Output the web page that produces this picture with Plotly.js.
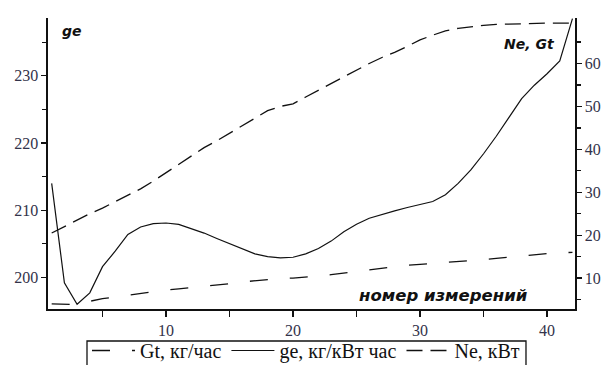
<!DOCTYPE html>
<html><head><meta charset="utf-8">
<script src="https://cdn.plot.ly/plotly-3.0.1.min.js"></script>
<style>html,body{margin:0;padding:0;background:#fff}#c{width:603px;height:365px}</style>
</head><body><div id="c"></div>
<script>
const measure = [1,2,3,4,5,6,7,8,9,10,11,12,13,14,15,16,17,18,19,20,21,22,23,24,25,26,27,28,29,30,31,32,33,34,35,36,37,38,39,40,41,42];
const geVals = [214,199.2,196.0,197.7,201.6,203.9,206.4,207.5,208.0,208.1,207.9,207.3,206.6,205.8,205.0,204.2,203.5,203.1,202.9,203.0,203.5,204.3,205.4,206.8,207.9,208.8,209.4,209.9,210.4,210.8,211.3,212.3,214.0,216.0,218.4,221.0,223.8,226.6,228.6,230.3,232.2,238.5];
const neVals = [20.5,22.0,23.6,25.0,26.3,27.8,29.2,30.8,32.6,34.6,36.4,38.5,40.4,42.0,43.8,45.5,47.3,49.0,50.0,50.6,52.2,53.8,55.4,57.0,58.5,60.0,61.4,62.6,64.0,65.5,66.6,67.6,68.2,68.6,68.9,69.1,69.2,69.3,69.4,69.4,69.4,69.4];
const gtVals = [4.0,3.9,3.8,4.6,5.2,5.6,6.0,6.5,6.9,7.2,7.5,7.8,8.0,8.3,8.7,9.1,9.4,9.7,9.9,10.0,10.2,10.5,10.8,11.1,11.5,11.9,12.3,12.7,13.0,13.2,13.4,13.7,13.9,14.1,14.3,14.6,14.9,15.2,15.5,15.7,15.9,16.0];
const names = ['Gt, кг/час','ge, кг/кВт час','Ne, кВт'];

const serif = "'Liberation Serif', 'Times New Roman', serif";
const tickFont = {family:serif, size:16, color:'#33334a'};
const annFont = {family:"'DejaVu Sans', sans-serif", size:14, color:'#111', weight:'bold', style:'italic'};
const annFontBig = {family:"'DejaVu Sans', sans-serif", size:16.5, color:'#111', weight:'bold', style:'italic'};

const traces = [
  {x:measure, y:gtVals, yaxis:'y2', name:names[0], mode:'lines', line:{color:'#111', width:1.3, dash:'18px,22px'}},
  {x:measure, y:geVals, yaxis:'y', name:names[1], mode:'lines', line:{color:'#111', width:1.2}},
  {x:measure, y:neVals, yaxis:'y2', name:names[2], mode:'lines', line:{color:'#111', width:1.3, dash:'16px,8px'}}
];

const layout = {
  width:603, height:365,
  margin:{l:48, r:28, t:18, b:56, autoexpand:false},
  paper_bgcolor:'#fff', plot_bgcolor:'#fff',
  font:{family:serif},
  showlegend:true,
  legend:{orientation:'h', x:0.074, xanchor:'left', y:-0.0756, yanchor:'top',
    borderwidth:0, bgcolor:'rgba(0,0,0,0)',
    font:{family:serif, size:20, color:'#111'},
    traceorder:'normal', itemwidth:43},
  shapes:[
    {type:'rect', xref:'paper', yref:'paper', x0:0.074, x1:0.907, y0:-0.110, y1:-0.26, line:{color:'#111', width:1.3}, fillcolor:'rgba(0,0,0,0)', layer:'below'}
  ],
  xaxis:{range:[0.71,42.2], tickvals:[10,20,30,40], ticks:'outside', ticklen:6, tickwidth:1.3, tickcolor:'#111',
    minor:{tickvals:[5,15,25,35], ticks:'outside', ticklen:6, tickwidth:1.3, tickcolor:'#111'},
    showline:true, linecolor:'#111', linewidth:1.6, showgrid:false, zeroline:false, tickfont:tickFont},
  yaxis:{range:[195.3,238.6], tickvals:[200,210,220,230], ticks:'outside', ticklen:5, tickwidth:1.3, tickcolor:'#111',
    minor:{tickvals:[195,205,215,225,235], ticks:'outside', ticklen:4, tickwidth:1.3, tickcolor:'#111'},
    showline:true, linecolor:'#111', linewidth:1.6, showgrid:false, zeroline:false, tickfont:tickFont},
  yaxis2:{overlaying:'y', side:'right', range:[2.8,70.6], tickvals:[10,20,30,40,50,60], ticks:'outside', ticklen:5, tickwidth:1.3, tickcolor:'#111',
    minor:{tickvals:[5,15,25,35,45,55,65], ticks:'outside', ticklen:4, tickwidth:1.3, tickcolor:'#111'},
    showline:true, linecolor:'#111', linewidth:1.6, showgrid:false, zeroline:false, tickfont:tickFont},
  annotations:[
    {xref:'paper', yref:'paper', x:0.023, y:0.955, xanchor:'left', yanchor:'middle', text:'ge', showarrow:false, font:annFont},
    {xref:'paper', yref:'paper', x:0.965, y:0.91, xanchor:'right', yanchor:'middle', text:'Ne, Gt', showarrow:false, font:annFont},
    {xref:'paper', yref:'paper', x:0.915, y:0.045, xanchor:'right', yanchor:'middle', text:'номер измерений', showarrow:false, font:annFontBig}
  ]
};
Plotly.newPlot('c', traces, layout, {displayModeBar:false, staticPlot:true});
</script></body></html>
